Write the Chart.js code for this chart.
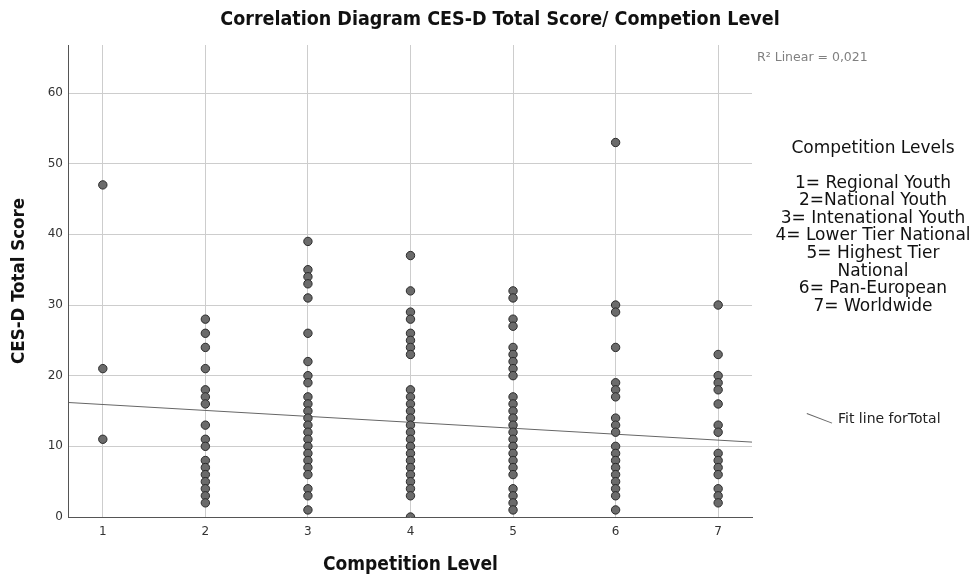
<!DOCTYPE html>
<html>
<head>
<meta charset="utf-8">
<script src="https://cdn.jsdelivr.net/npm/chart.js@4"></script>
<style>
    body { margin: 0; background: #fff; }
    #wrap { position: relative; width: 974px; height: 579px; }
    #title { position: absolute; left: 150px; width: 700px; top: 7px; text-align: center; line-height: 22px;
        font: bold 19.5px "DejaVu Sans Condensed", "DejaVu Sans", sans-serif; color: #111; }
    #r2 { position: absolute; left: 757px; top: 49px; font: 12.5px "DejaVu Sans", sans-serif; color: #808080; }
    #levels { position: absolute; left: 723px; width: 300px; top: 138.5px; text-align: center;
        font: 17px "DejaVu Sans", sans-serif; color: #111; line-height: 17.6px; }
    #fit { position: absolute; left: 807px; top: 410px; font: 14px "DejaVu Sans", sans-serif; color: #222; }
    #fit span.seg { position: absolute; left: 0px; top: 3px; width: 27px; border-top: 1px solid #666;
        transform: rotate(21deg); transform-origin: 0 0; }
</style>
</head>
<body>
<div id="wrap">
    <canvas id="chart" width="974" height="579"></canvas>
    <div id="title">Correlation Diagram CES-D Total Score/ Competion Level</div>
    <div id="r2">R² Linear = 0,021</div>
    <div id="levels">
        Competition Levels<br><br>
        1= Regional Youth<br>
        2=National Youth<br>
        3= Intenational Youth<br>
        4= Lower Tier National<br>
        5= Highest Tier<br>
        National<br>
        6= Pan-European<br>
        7= Worldwide
    </div>
    <div id="fit"><span class="seg"></span><span style="margin-left:31px">Fit line forTotal</span></div>
</div>
<script>
// CES-D total score per competition level
const level1 = [47, 21, 11]
const level2 = [28, 26, 24, 21, 18, 17, 16, 13, 11, 10, 8, 7, 6, 5, 4, 3, 2]
const level3 = [39, 35, 34, 33, 31, 26, 22, 20, 19, 17, 16, 15, 14, 13, 12, 11, 10, 9, 8, 7, 6, 4, 3, 1]
const level4 = [37, 32, 29, 28, 26, 25, 24, 23, 18, 17, 16, 15, 14, 13, 12, 11, 10, 9, 8, 7, 6, 5, 4, 3, 0]
const level5 = [32, 31, 28, 27, 24, 23, 22, 21, 20, 17, 16, 15, 14, 13, 12, 11, 10, 9, 8, 7, 6, 4, 3, 2, 1]
const level6 = [53, 30, 29, 24, 19, 18, 17, 14, 13, 12, 10, 9, 8, 7, 6, 5, 4, 3, 1]
const level7 = [30, 23, 20, 19, 18, 16, 13, 12, 9, 8, 7, 6, 4, 3, 2]

// fit line end points at the axis bounds
const fitX = [0.67, 7.33]
const fitY = [16.2, 10.6]

const xTicks = [1, 2, 3, 4, 5, 6, 7]
const yTicks = [0, 10, 20, 30, 40, 50, 60]

const levels = [level1, level2, level3, level4, level5, level6, level7]
var points = []
levels.forEach((scores, i) => {
    scores.forEach(s => points.push({ x: xTicks[i], y: s }))
})

const gridColor = '#cdcdcd'
const axisColor = '#555555'
const titleFont = '"DejaVu Sans Condensed", "DejaVu Sans", sans-serif'

new Chart(document.getElementById('chart').getContext('2d'), {
    type: 'scatter',
    data: {
        datasets: [{
            label: 'Total',
            data: points,
            pointRadius: 4.2,
            pointBackgroundColor: '#6b6b6b',
            pointBorderColor: '#2b2b2b',
            pointBorderWidth: 1,
            clip: 0
        }, {
            type: 'line',
            label: 'Fit line forTotal',
            data: fitX.map((x, i) => ({ x: x, y: fitY[i] })),
            borderColor: '#666666',
            borderWidth: 1,
            pointRadius: 0,
            fill: false
        }]
    },
    options: {
        responsive: false,
        animation: false,
        layout: { autoPadding: false, padding: { left: 0, right: 222, top: 45, bottom: 0 } },
        plugins: {
            legend: { display: false },
            tooltip: { enabled: false },
            title: { display: false }
        },
        scales: {
            x: {
                type: 'linear',
                min: 0.67,
                max: 7.33,
                afterBuildTicks: (axis) => { axis.ticks = xTicks.map(v => ({ value: v })) },
                ticks: {
                    color: '#333',
                    font: { family: '"DejaVu Sans", sans-serif', size: 12 },
                    padding: 8
                },
                grid: { color: gridColor, lineWidth: 1, drawTicks: false },
                border: { color: axisColor, width: 1 },
                title: {
                    display: true,
                    text: 'Competition Level',
                    color: '#111',
                    font: { family: titleFont, size: 19, weight: 'bold' },
                    padding: { top: 6.2, bottom: 2.6 }
                }
            },
            y: {
                type: 'linear',
                min: 0,
                max: 66.8,
                afterBuildTicks: (axis) => { axis.ticks = yTicks.map(v => ({ value: v })) },
                ticks: {
                    color: '#333',
                    font: { family: '"DejaVu Sans", sans-serif', size: 12 },
                    padding: 6
                },
                grid: { color: gridColor, lineWidth: 1, drawTicks: false },
                border: { color: axisColor, width: 1 },
                title: {
                    display: true,
                    text: 'CES-D Total Score',
                    color: '#111',
                    font: { family: titleFont, size: 18.5, weight: 'bold' },
                    padding: { top: 7.9, bottom: 11.6 }
                }
            }
        }
    }
})
</script>
</body>
</html>
